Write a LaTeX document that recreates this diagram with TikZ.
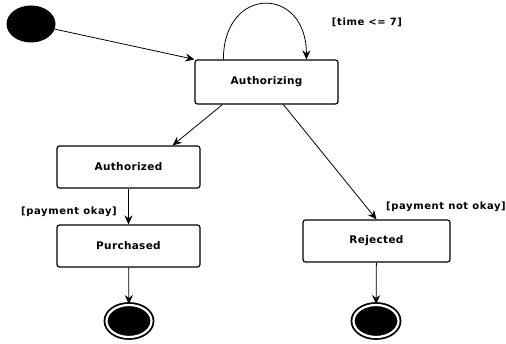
\documentclass[tikz,border=0pt]{standalone}
\usepackage{fontspec}
\setmainfont{DejaVu Sans}
\newfontfamily\guardfont[LetterSpace=6]{DejaVu Sans}
\newfontfamily\statefont[LetterSpace=3]{DejaVu Sans}
\usetikzlibrary{arrows.meta,calc,shapes.geometric}
\begin{document}
\begin{tikzpicture}[x=1pt,y=-1pt,
  state/.style={draw,line width=1.2pt,rounded corners=2.5pt,minimum width=143pt,minimum height=42pt,inner sep=0pt,font=\statefont\bfseries\fontsize{10.5}{12}\selectfont},
  trans/.style={line width=0.8pt,-{Stealth[length=9pt,width=8pt]}},
  guard/.style={font=\guardfont\bfseries\fontsize{10}{12}\selectfont,inner sep=0pt},
  startdot/.style={ellipse,fill=black,minimum width=49pt,minimum height=37pt,inner sep=0pt},
  enddot/.style={ellipse,draw,line width=1.8pt,double=white,double distance=2.2pt,fill=black,minimum width=45pt,minimum height=32pt,inner sep=0pt}]
\useasboundingbox (0,0) rectangle (506,344);
% states
\node[startdot] (init) at (31,24) {};
\node[state,minimum width=143pt,minimum height=44pt] (auth) at (266.5,82) {Authorizing};
\node[state] (authd) at (128.5,167) {Authorized};
\node[state] (purch) at (128.5,246) {Purchased};
\node[state,minimum width=147pt] (rej) at (376.5,241) {Rejected};
\node[enddot] (fin1) at (129,321) {};
\node[enddot] (fin2) at (376,321) {};
% guards
\node[guard] (g1) at (367,22) {[time <= 7]};
\node[guard] (g2) at (69,212) {[payment okay]};
\node[guard] (g3) at (446,207) {[payment not okay]};
% transitions
\draw[trans] (init) -- (auth.north west);
\draw[trans] ($(auth.north west)+(29,0)$) .. controls ($(auth.north west)+(29,-74)$) and ($(auth.north west)+(112,-74)$) .. ($(auth.north west)+(112,0)$);
\draw[trans] ($(auth.south west)+(28,0)$) -- ($(authd.north east)+(-28,0)$);
\draw[trans] (authd) -- (purch);
\draw[trans] ($(auth.south west)+(89,0)$) -- (rej.north);
\draw[trans] (purch) -- (fin1);
\draw[trans] (rej) -- (fin2);
\end{tikzpicture}
\end{document}
